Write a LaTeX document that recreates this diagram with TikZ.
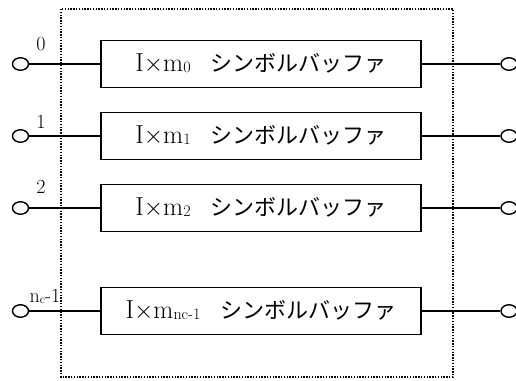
\documentclass[tikz,border=0pt]{standalone}
\usepackage{fontspec}
\newfontfamily\jp{Noto Sans CJK JP}
\usetikzlibrary{shapes.geometric}
\newcommand{\bufsub}[1]{\raisebox{-1pt}{\fontsize{16}{16}\selectfont #1}}
\newcommand{\buflabel}[1]{\fontsize{26}{28}\selectfont I{$\times$}m\bufsub{#1}\hspace{20pt}{\jp\fontsize{22}{24}\selectfont シンボルバッファ}}
\tikzset{
  bufbox/.style={draw, line width=1.4pt, minimum width=320pt, minimum height=47pt, inner sep=0pt},
  term/.style={draw, ellipse, line width=1.4pt, minimum width=16pt, minimum height=12.5pt, inner sep=0pt, fill=white},
  wire/.style={line width=2.3pt},
  idx/.style={font=\fontsize{20}{20}\selectfont, inner sep=0pt},
  frame/.style={line width=1.6pt, dash pattern=on 1.4pt off 1.4pt}
}
\begin{document}
\begin{tikzpicture}[x=1pt,y=-1pt]
\useasboundingbox (0,0) rectangle (516,380);
\draw[frame] (61,9) rectangle (453,377);
\node[bufbox] (b0) at (261,64) {\buflabel{0}};
\node[bufbox] (b1) at (261,136) {\buflabel{1}};
\node[bufbox] (b2) at (261,208) {\buflabel{2}};
\node[bufbox] (b3) at (261,311) {\buflabel{nc-1}};
\foreach \i/\y in {0/64,1/136,2/208,3/311}{
  \node[term] (l\i) at (20.5,\y) {};
  \node[term] (r\i) at (509,\y) {};
  \draw[wire] (l\i) -- (b\i);
  \draw[wire] (b\i) -- (r\i);
}
\node[idx] (t0) at (41,44) {0};
\node[idx] (t1) at (41,122) {1};
\node[idx] (t2) at (41,187) {2};
\node[idx] (t3) at (45,296) {n\raisebox{-1pt}{\fontsize{12}{12}\selectfont c}-1};
\end{tikzpicture}
\end{document}
